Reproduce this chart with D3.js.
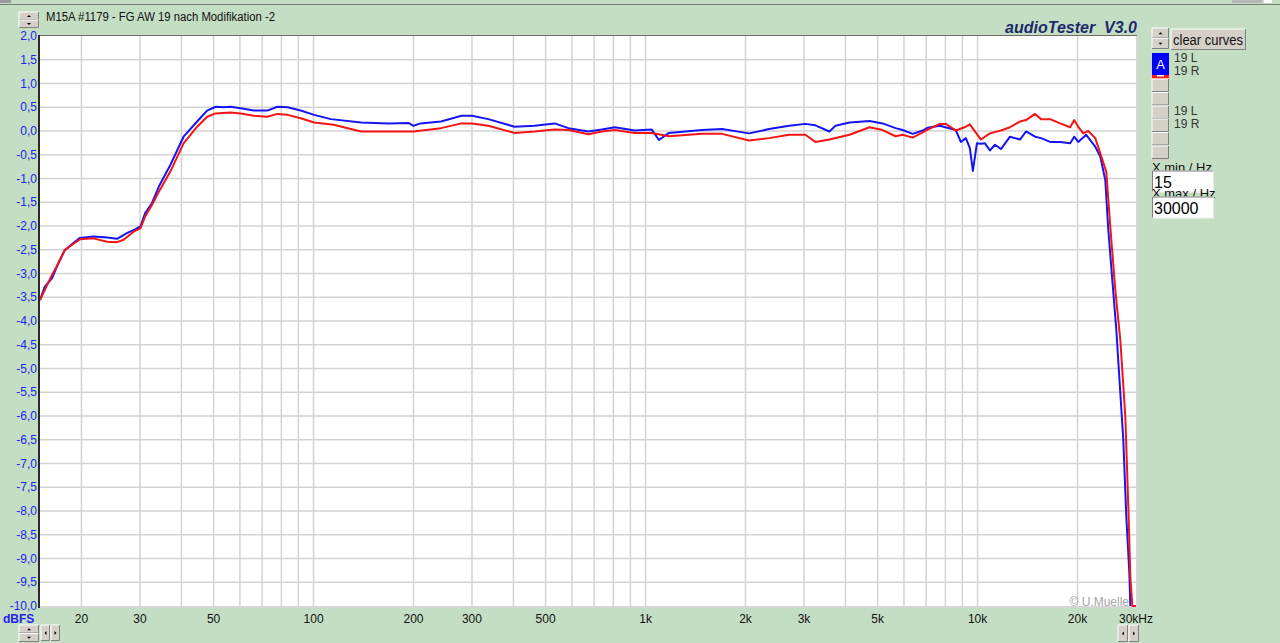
<!DOCTYPE html>
<html>
<head>
<meta charset="utf-8">
<title>audioTester V3.0</title>
<script src="https://cdn.jsdelivr.net/npm/d3@7"></script>
<style>
    html, body { margin: 0; padding: 0; background: #c3dec3; overflow: hidden; }
    svg { display: block; font-family: "Liberation Sans", Arial, sans-serif; }
</style>
</head>
<body>
<svg id="chart" width="1280" height="643"></svg>
<script>
var TITLE = 'M15A #1179 - FG AW 19 nach Modifikation -2';
var BRAND = 'audioTester  V3.0';

// 19 L (blue) - frequency in Hz, level in dBFS
var freqL = [15, 15.5, 16.3, 16.8, 17.8, 18.9, 19.8, 21.7, 23.9, 25.6, 27.4, 29, 30.1, 31.1, 32.6, 34.2, 37, 40.6, 44.6, 47.8,
    50.7, 53.7, 56.2, 60.3, 66.1, 72.6, 77.8, 83.5, 91.5, 100.4, 112.8, 139, 168, 193, 200, 210, 242, 279, 300, 336,
    403, 463, 532, 586, 673, 738, 808, 928, 1044, 1097, 1176, 1479, 1700, 2050, 2355, 2708, 3027, 3246, 3579, 3733,
    4115, 4727, 5173, 5664, 5945, 6373, 6834, 7077, 7693, 8598, 8903, 9218, 9478, 9679, 9952, 10233, 10521, 10892, 11277, 11760,
    12519, 13419, 13991, 14897, 15531, 16536, 17727, 19004, 19541, 20093, 21242, 22614, 23418, 24246, 24755, 26172, 27474, 28056, 28649, 28847];
var levelL = [-3.56, -3.28, -3.10, -2.88, -2.51, -2.36, -2.25, -2.22, -2.24, -2.27, -2.15, -2.07, -2.01, -1.73, -1.52, -1.17, -0.72, -0.12, 0.20, 0.43,
    0.51, 0.50, 0.51, 0.48, 0.43, 0.43, 0.51, 0.50, 0.43, 0.34, 0.25, 0.18, 0.16, 0.17, 0.11, 0.16, 0.20, 0.32, 0.32, 0.25,
    0.09, 0.11, 0.16, 0.06, -0.01, 0.03, 0.08, 0.01, 0.03, -0.19, -0.04, 0.02, 0.04, -0.05, 0.04, 0.11, 0.15, 0.12, -0.01, 0.11,
    0.18, 0.21, 0.16, 0.06, 0.02, -0.06, 0.01, 0.07, 0.11, 0.02, -0.23, -0.15, -0.36, -0.84, -0.26, -0.27, -0.26, -0.41, -0.29, -0.38,
    -0.12, -0.18, -0.01, -0.12, -0.15, -0.23, -0.23, -0.26, -0.12, -0.23, -0.08, -0.33, -0.54, -1.03, -2.08, -4.19, -6.51, -8.13, -9.31, -10];

// 19 R (red)
var freqR = [15, 15.5, 16.3, 16.8, 17.8, 18.9, 19.8, 21.7, 23.9, 25.6, 26.8, 28.7, 30.1, 31.1, 32.6, 34.2, 37, 40.6, 44.6, 47.8,
    50.7, 56.2, 60.3, 66.1, 72.6, 77.8, 83.5, 91.5, 100.4, 115, 139, 168, 200, 242, 279, 300, 336, 403, 463, 532,
    586, 673, 738, 808, 928, 1044, 1176, 1479, 1700, 2050, 2355, 2708, 3027, 3246, 3579, 4115, 4727, 5173, 5664, 5945,
    6373, 6834, 7077, 7693, 8022, 8598, 9218, 9478, 10233, 10892, 11760, 12519, 13419, 13991, 14897, 15531, 16536, 17727, 19004, 19541,
    20093, 20802, 21540, 22614, 23418, 24416, 25104, 25992, 26908, 27862, 28447, 28847, 29247, 30000];
var levelR = [-3.56, -3.35, -3.03, -2.86, -2.51, -2.38, -2.28, -2.26, -2.33, -2.34, -2.29, -2.12, -2.05, -1.80, -1.56, -1.28, -0.86, -0.26, 0.09, 0.30,
    0.37, 0.39, 0.37, 0.32, 0.30, 0.36, 0.34, 0.27, 0.18, 0.13, -0.01, -0.01, -0.01, 0.06, 0.16, 0.16, 0.11, -0.04, -0.01, 0.03,
    0.02, -0.07, -0.01, 0.02, -0.04, -0.04, -0.11, -0.06, -0.06, -0.20, -0.15, -0.08, -0.08, -0.23, -0.18, -0.08, 0.08, 0.02, -0.11, -0.08,
    -0.14, -0.03, 0.03, 0.15, 0.15, 0.01, 0.09, 0.14, -0.18, -0.05, 0.01, 0.08, 0.20, 0.23, 0.36, 0.25, 0.25, 0.16, 0.08, 0.23,
    0.09, -0.05, 0.00, -0.15, -0.47, -0.86, -2.02, -3.35, -4.40, -6.02, -7.92, -9.39, -10, -10];

var xGridFreqs = [20, 30, 40, 50, 60, 70, 80, 90, 100, 200, 300, 400, 500, 600, 700, 800, 900, 1000,
    2000, 3000, 4000, 5000, 6000, 7000, 8000, 9000, 10000, 20000];
var xTickFreqs = [20, 30, 50, 100, 200, 300, 500, 1000, 2000, 3000, 5000, 10000, 20000, 30000];
var xTickLabels = ['20', '30', '50', '100', '200', '300', '500', '1k', '2k', '3k', '5k', '10k', '20k', '30kHz'];
var yTickValues = [2, 1.5, 1, 0.5, 0, -0.5, -1, -1.5, -2, -2.5, -3, -3.5, -4, -4.5, -5, -5.5, -6, -6.5, -7, -7.5, -8, -8.5, -9, -9.5, -10];
var curveLabels = ['19 L', '19 R', '', '', '19 L', '19 R'];

(function () {
    var svg = d3.select('#chart');
    var BTN_FACE = '#d4d0c8';

    var plot = {left: 40, right: 1136, top: 36, bottom: 606};

    var x = d3.scaleLog().domain([15, 30000]).range([plot.left, plot.right]);
    var y = d3.scaleLinear().domain([-10, 2]).range([plot.bottom, plot.top]);

    //region helpers
    var _button = function (g, bx, by, w, h) {
        var b = g.append('g');
        b.append('rect').attr('x', bx).attr('y', by).attr('width', w).attr('height', h).attr('fill', BTN_FACE);
        b.append('path').attr('d', 'M' + bx + ',' + (by + h) + 'V' + by + 'H' + (bx + w))
            .attr('fill', 'none').attr('stroke', '#fff').attr('stroke-width', 1);
        b.append('path').attr('d', 'M' + bx + ',' + (by + h - 0.5) + 'H' + (bx + w - 0.5) + 'V' + by)
            .attr('fill', 'none').attr('stroke', '#808080').attr('stroke-width', 1);
        return b;
    };

    var _arrow = function (g, cx, cy, dir) {
        var s = 2;
        var d;
        if (dir == 'up') d = 'M' + (cx - s) + ',' + (cy + 1) + 'L' + cx + ',' + (cy - 1) + 'L' + (cx + s) + ',' + (cy + 1) + 'Z';
        else if (dir == 'down') d = 'M' + (cx - s) + ',' + (cy - 1) + 'L' + cx + ',' + (cy + 1) + 'L' + (cx + s) + ',' + (cy - 1) + 'Z';
        else if (dir == 'left') d = 'M' + (cx + 1) + ',' + (cy - s) + 'L' + (cx - 1) + ',' + cy + 'L' + (cx + 1) + ',' + (cy + s) + 'Z';
        else d = 'M' + (cx - 1) + ',' + (cy - s) + 'L' + (cx + 1) + ',' + cy + 'L' + (cx - 1) + ',' + (cy + s) + 'Z';
        g.append('path').attr('d', d).attr('fill', '#000');
    };

    var _spinner = function (g, bx, by, w, h) {
        var half = h / 2;
        _button(g, bx, by, w, half);
        _button(g, bx, by + half, w, half);
        _arrow(g, bx + w / 2, by + half / 2, 'up');
        _arrow(g, bx + w / 2, by + half * 1.5, 'down');
    };

    var _leftRight = function (g, bx, by, w, h) {
        _button(g, bx, by, w, h);
        _button(g, bx + w + 1, by, w, h);
        _arrow(g, bx + w / 2, by + h / 2, 'left');
        _arrow(g, bx + w * 1.5 + 1, by + h / 2, 'right');
    };
    //endregion

    //region window chrome
    svg.append('line').attr('x1', 0).attr('x2', 1280).attr('y1', 4.5).attr('y2', 4.5)
        .attr('stroke', '#7a7a7a').attr('stroke-width', 1);
    svg.append('rect').attr('x', 0).attr('y', 0).attr('width', 11).attr('height', 3).attr('fill', '#9a9a9a');
    svg.append('rect').attr('x', 1232).attr('y', 0).attr('width', 30).attr('height', 3).attr('fill', '#b5b5b5');
    svg.append('rect').attr('x', 1264).attr('y', 0).attr('width', 8).attr('height', 3).attr('fill', '#fff');

    var chrome = svg.append('g');
    _spinner(chrome, 19, 12, 20, 16);
    chrome.append('text').attr('x', 46).attr('y', 21).attr('font-size', 12).attr('fill', '#111')
        .attr('textLength', 229).attr('lengthAdjust', 'spacingAndGlyphs')
        .text(TITLE);
    chrome.append('text').attr('x', 1137).attr('y', 33).attr('text-anchor', 'end')
        .attr('font-size', 16).attr('font-weight', 'bold').attr('font-style', 'italic')
        .attr('fill', '#1c2a6b').attr('xml:space', 'preserve').style('white-space', 'pre')
        .text(BRAND);
    //endregion

    //region plot area
    svg.append('rect').attr('x', plot.left).attr('y', plot.top)
        .attr('width', plot.right - plot.left).attr('height', plot.bottom - plot.top).attr('fill', '#fff');

    var grid = svg.append('g');
    grid.selectAll('line.v').data(xGridFreqs).enter().append('line')
        .attr('x1', function (d) { return x(d); }).attr('x2', function (d) { return x(d); })
        .attr('y1', plot.top).attr('y2', plot.bottom)
        .attr('stroke', '#d3d3d3').attr('stroke-width', 1.5);
    grid.selectAll('line.h').data(yTickValues.filter(function (v) { return v < 2 && v > -10; })).enter().append('line')
        .attr('x1', plot.left).attr('x2', plot.right)
        .attr('y1', function (d) { return y(d); }).attr('y2', function (d) { return y(d); })
        .attr('stroke', '#d3d3d3').attr('stroke-width', 1.5);

    // sunken border
    svg.append('line').attr('x1', plot.left).attr('x2', plot.right + 2).attr('y1', plot.bottom + 1).attr('y2', plot.bottom + 1)
        .attr('stroke', '#d6d6d6').attr('stroke-width', 2);
    svg.append('line').attr('x1', plot.right + 1).attr('x2', plot.right + 1).attr('y1', plot.top).attr('y2', plot.bottom + 2)
        .attr('stroke', '#d6d6d6').attr('stroke-width', 2);
    svg.append('line').attr('x1', plot.left - 1).attr('x2', plot.right + 1).attr('y1', plot.top - 0.5).attr('y2', plot.top - 0.5)
        .attr('stroke', '#6a6a6a').attr('stroke-width', 1);
    svg.append('line').attr('x1', plot.left - 1).attr('x2', plot.left - 1).attr('y1', plot.top - 1).attr('y2', plot.bottom + 2)
        .attr('stroke', '#2a2a2a').attr('stroke-width', 2);

    svg.append('text').attr('x', 1133).attr('y', 606).attr('text-anchor', 'end')
        .attr('font-size', 12).attr('fill', '#a4a4a4').text('\u00a9 U.Mueller');

    svg.append('clipPath').attr('id', 'plotClip').append('rect')
        .attr('x', plot.left).attr('y', plot.top - 1)
        .attr('width', plot.right - plot.left).attr('height', plot.bottom - plot.top + 2);

    var line = d3.line()
        .x(function (d) { return x(d[0]); })
        .y(function (d) { return y(d[1]); });

    var curves = svg.append('g').attr('clip-path', 'url(#plotClip)');
    curves.append('path').datum(d3.zip(freqL, levelL))
        .attr('d', line).attr('fill', 'none').attr('stroke', '#1414f5')
        .attr('stroke-width', 2).attr('stroke-linejoin', 'round');
    curves.append('path').datum(d3.zip(freqR, levelR))
        .attr('d', line).attr('fill', 'none').attr('stroke', '#f51414')
        .attr('stroke-width', 2).attr('stroke-linejoin', 'round');
    //endregion

    //region axes labels
    var yAxis = svg.append('g');
    yAxis.selectAll('text').data(yTickValues).enter().append('text')
        .attr('x', 37).attr('y', function (d) { return y(d); }).attr('dy', '0.35em')
        .attr('text-anchor', 'end').attr('font-size', 12).attr('fill', '#2323f0')
        .text(function (d) { return d3.format('.1f')(d).replace('.', ',').replace('\u2212', '-'); });

    var xAxis = svg.append('g');
    xAxis.selectAll('text').data(xTickFreqs).enter().append('text')
        .attr('x', function (d) { return x(d); }).attr('y', 623)
        .attr('text-anchor', 'middle').attr('font-size', 12).attr('fill', '#111')
        .text(function (d, i) { return xTickLabels[i]; });

    svg.append('text').attr('x', 3).attr('y', 623).attr('font-size', 12).attr('font-weight', 'bold')
        .attr('fill', '#2323f0').text('dBFS');

    _spinner(chrome, 19, 625, 20, 17);
    _leftRight(chrome, 41, 625, 9, 16);
    _leftRight(chrome, 1118, 625, 10, 17);
    //endregion

    //region right panel
    var panel = svg.append('g');
    _spinner(panel, 1152, 28, 17, 21);
    _button(panel, 1171, 29, 75, 21);
    panel.append('text').attr('x', 1173).attr('y', 45)
        .attr('font-size', 14).attr('fill', '#111')
        .attr('textLength', 70).attr('lengthAdjust', 'spacingAndGlyphs').text('clear curves');

    // curve slots
    panel.append('rect').attr('x', 1152).attr('y', 53).attr('width', 17).attr('height', 22).attr('fill', '#0000ff');
    panel.append('text').attr('x', 1160.5).attr('y', 69).attr('text-anchor', 'middle')
        .attr('font-size', 13).attr('fill', '#fff').text('A');
    panel.append('rect').attr('x', 1152).attr('y', 75).attr('width', 17).attr('height', 3.5).attr('fill', '#ff1a1a');
    panel.append('rect').attr('x', 1157).attr('y', 75).attr('width', 7).attr('height', 1.5).attr('fill', '#fff');
    var slotTops = [79, 92.5, 106, 119, 132.5, 146];
    slotTops.forEach(function (t) {
        _button(panel, 1152, t, 17, 13);
    });
    panel.append('rect').attr('x', 1152).attr('y', 159).attr('width', 17).attr('height', 2).attr('fill', BTN_FACE);

    var labelYs = [58, 71, 84, 97, 111, 124];
    curveLabels.forEach(function (lbl, i) {
        if (lbl == '') return;
        panel.append('text').attr('x', 1174).attr('y', labelYs[i]).attr('dy', '0.35em')
            .attr('font-size', 12).attr('fill', '#333').text(lbl);
    });

    var _inputBox = function (by, label, value) {
        panel.append('text').attr('x', 1152).attr('y', by + 1).attr('font-size', 13).attr('fill', '#111').text(label);
        panel.append('rect').attr('x', 1152).attr('y', by).attr('width', 62).attr('height', 22).attr('fill', '#fff');
        panel.append('path').attr('d', 'M1152.5,' + (by + 22) + 'V' + (by + 0.5) + 'H1214')
            .attr('fill', 'none').attr('stroke', '#808080');
        panel.append('path').attr('d', 'M1152,' + (by + 21.5) + 'H1213.5V' + by)
            .attr('fill', 'none').attr('stroke', '#e8e8e8');
        panel.append('text').attr('x', 1154).attr('y', by + 17).attr('font-size', 16).attr('fill', '#000').text(value);
    };
    _inputBox(170.5, 'X min / Hz', '15');
    _inputBox(196.5, 'X max / Hz', '30000');
    //endregion
})();
</script>
</body>
</html>
